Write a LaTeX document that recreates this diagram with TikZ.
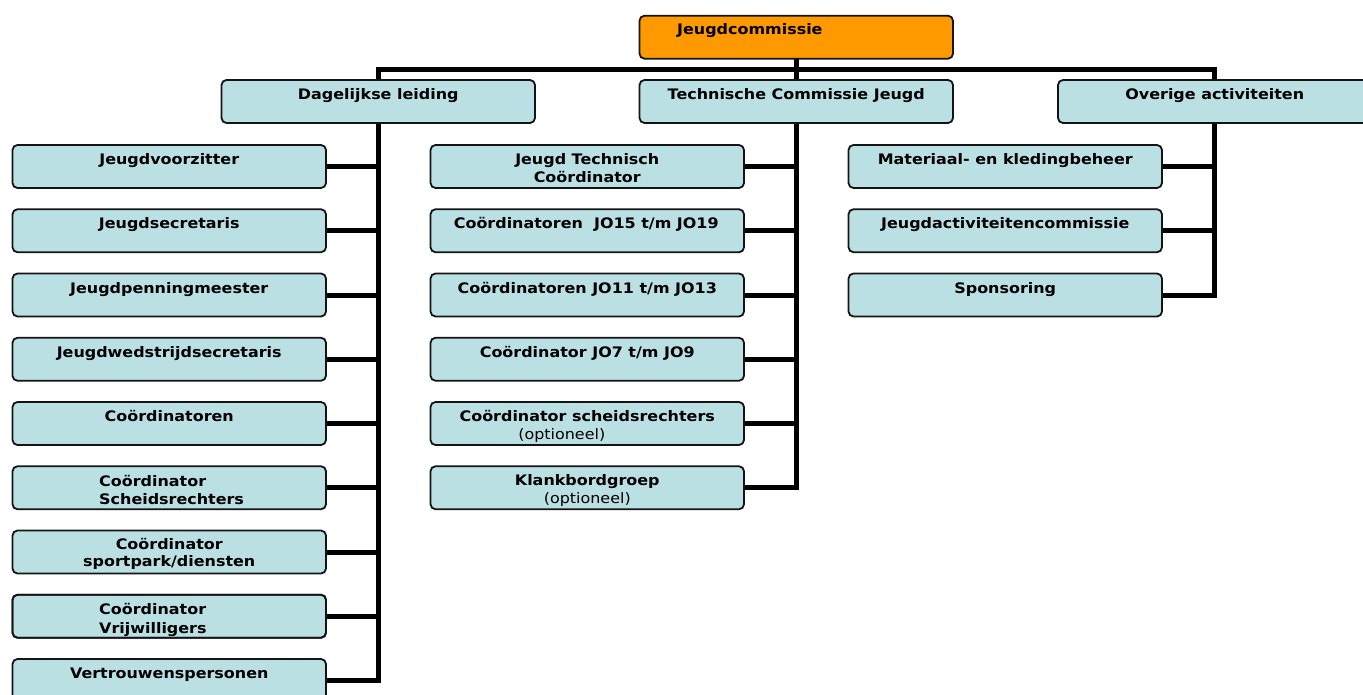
\documentclass[tikz,border=0pt]{standalone}
\usepackage{fontspec}
\setmainfont{DejaVu Sans}[FakeStretch=1.1]
\usetikzlibrary{calc}
\definecolor{boxblue}{RGB}{187,224,228}
\definecolor{orangebox}{RGB}{255,153,0}
\definecolor{boxline}{RGB}{20,20,20}
\tikzset{
  box/.style={draw=boxline, line width=1.8pt, rounded corners=5pt, fill=boxblue,
    minimum width=313.5pt, minimum height=43pt, anchor=north west, inner sep=0pt, outer sep=0pt},
  ghost/.style={box, draw=none, fill=none},
  topbox/.style={box, fill=orangebox},
  lbl/.style={font=\fontsize{14.5}{17}\selectfont\bfseries, anchor=base, inner sep=0pt},
  lblw/.style={lbl, anchor=base west},
  sub/.style={font=\fontsize{14.5}{17}\selectfont, anchor=base, inner sep=0pt},
  bus/.style={line width=5pt, draw=black},
}
\begin{document}
\begin{tikzpicture}[x=1pt,y=-1pt]
\useasboundingbox (0,0) rectangle (1363,695);
% coordinates of the bus corners
\coordinate (busL) at (378,70);
\coordinate (busR) at (1214.5,70);
% ---------- box positions (placeholders so the connectors can go first)
\path (12.5,145) node[ghost] (L1) {}
      (12.5,209.25) node[ghost] (L2) {}
      (12.5,273.5) node[ghost] (L3) {}
      (12.5,337.75) node[ghost] (L4) {}
      (12.5,402) node[ghost] (L5) {}
      (12.5,466.25) node[ghost] (L6) {}
      (12.5,530.5) node[ghost] (L7) {}
      (12.5,594.75) node[ghost] (L8) {}
      (12.5,659) node[ghost] (L9) {}
      (430.5,145) node[ghost] (M1) {}
      (430.5,209.25) node[ghost] (M2) {}
      (430.5,273.5) node[ghost] (M3) {}
      (430.5,337.75) node[ghost] (M4) {}
      (430.5,402) node[ghost] (M5) {}
      (430.5,466.25) node[ghost] (M6) {}
      (848.5,145) node[ghost] (R1) {}
      (848.5,209.25) node[ghost] (R2) {}
      (848.5,273.5) node[ghost] (R3) {}
      (639.5,15.7) node[ghost] (top) {};
% ---------- connectors
\draw[bus] (L9.east) -| (busL) -- (busR) |- (R3.east);
\draw[bus] (top.south) |- (M6.east);
\foreach \n in {L1,L2,L3,L4,L5,L6,L7,L8}{\draw[bus] (\n.east) -- (\n.east -| busL);}
\foreach \n in {M1,M2,M3,M4,M5}{\draw[bus] (\n.east) -- (\n.east -| top.south);}
\foreach \n in {R1,R2}{\draw[bus] (\n.east) -- (\n.east -| busR);}
% ---------- boxes
\node[topbox] (jc) at (639.5,15.7) {};
\node[box] (dl) at (221.5,80) {};
\node[box] (tc) at (639.5,80) {};
\node[box] (oa) at (1058,80) {};
\node[box] (bL1) at (L1.north west) {};
\node[box] (bL2) at (L2.north west) {};
\node[box] (bL3) at (L3.north west) {};
\node[box] (bL4) at (L4.north west) {};
\node[box] (bL5) at (L5.north west) {};
\node[box] (bL6) at (L6.north west) {};
\node[box] (bL7) at (L7.north west) {};
\node[box] (bL8) at (L8.north west) {};
\node[box] (bL9) at (L9.north west) {};
\node[box] (bM1) at (M1.north west) {};
\node[box] (bM2) at (M2.north west) {};
\node[box] (bM3) at (M3.north west) {};
\node[box] (bM4) at (M4.north west) {};
\node[box] (bM5) at (M5.north west) {};
\node[box] (bM6) at (M6.north west) {};
\node[box] (bR1) at (R1.north west) {};
\node[box] (bR2) at (R2.north west) {};
\node[box] (bR3) at (R3.north west) {};
% ---------- labels
\node[lblw] (tjc) at (677,35) {Jeugdcommissie};
\node[lbl] (tdl) at ($(dl.north)+(0,20)$) {Dagelijkse leiding};
\node[lbl] (ttc) at ($(tc.north)+(0,20)$) {Technische Commissie Jeugd};
\node[lbl] (toa) at ($(oa.north)+(0,20)$) {Overige activiteiten};
\node[lbl] (tL1) at ($(bL1.north)+(0,19.5)$) {Jeugdvoorzitter};
\node[lbl] (tL2) at ($(bL2.north)+(0,19.7)$) {Jeugdsecretaris};
\node[lbl] (tL3) at ($(bL3.north)+(0,19.7)$) {Jeugdpenningmeester};
\node[lbl] (tL4) at ($(bL4.north)+(0,19.7)$) {Jeugdwedstrijdsecretaris};
\node[lbl] (tL5) at ($(bL5.north)+(0,19.7)$) {Coördinatoren};
\node[lblw] (tL6a) at ($(bL6.north west)+(86.5,20)$) {Coördinator};
\node[lblw] (tL6b) at ($(bL6.north west)+(86.5,38.3)$) {Scheidsrechters};
\node[lbl] (tL7a) at ($(bL7.north)+(0,18.5)$) {Coördinator};
\node[lbl] (tL7b) at ($(bL7.north)+(0,36)$) {sportpark/diensten};
\node[lblw] (tL8a) at ($(bL8.north west)+(86.5,20)$) {Coördinator};
\begin{scope}
\clip ($(bL8.south west)+(0,-0.9)$) rectangle (bL8.north east);
\node[lblw] (tL8b) at ($(bL8.north west)+(86.5,38.5)$) {Vrijwilligers};
\end{scope}
\draw[boxline, line width=1.8pt, rounded corners=5pt] (bL8.south west) rectangle (bL8.north east);
\node[lbl] (tL9) at ($(bL9.north)+(0,19.7)$) {Vertrouwenspersonen};
\node[lbl] (tM1a) at ($(bM1.north)+(0,20)$) {Jeugd Technisch};
\node[lbl] (tM1b) at ($(bM1.north)+(0,37.7)$) {Coördinator};
\node[lbl] (tM2) at ($(bM2.north)+(-1,19.7)$) {Coördinatoren\ \ JO15 t/m JO19};
\node[lbl] (tM3) at ($(bM3.north)+(0,19.7)$) {Coördinatoren JO11 t/m JO13};
\node[lbl] (tM4) at ($(bM4.north)+(0,19.7)$) {Coördinator JO7 t/m JO9};
\node[lbl] (tM5a) at ($(bM5.north)+(0,19.5)$) {Coördinator scheidsrechters};
\node[sub] (tM5b) at ($(bM5.north)+(-25.5,37.5)$) {(optioneel)};
\node[lbl] (tM6a) at ($(bM6.north)+(0,19.5)$) {Klankbordgroep};
\node[sub] (tM6b) at ($(bM6.north)+(0,37.5)$) {(optioneel)};
\node[lbl] (tR1) at ($(bR1.north)+(0,19.5)$) {Materiaal- en kledingbeheer};
\node[lbl] (tR2) at ($(bR2.north)+(0,19.7)$) {Jeugdactiviteitencommissie};
\node[lbl] (tR3) at ($(bR3.north)+(0,19.7)$) {Sponsoring};
\end{tikzpicture}
\end{document}
